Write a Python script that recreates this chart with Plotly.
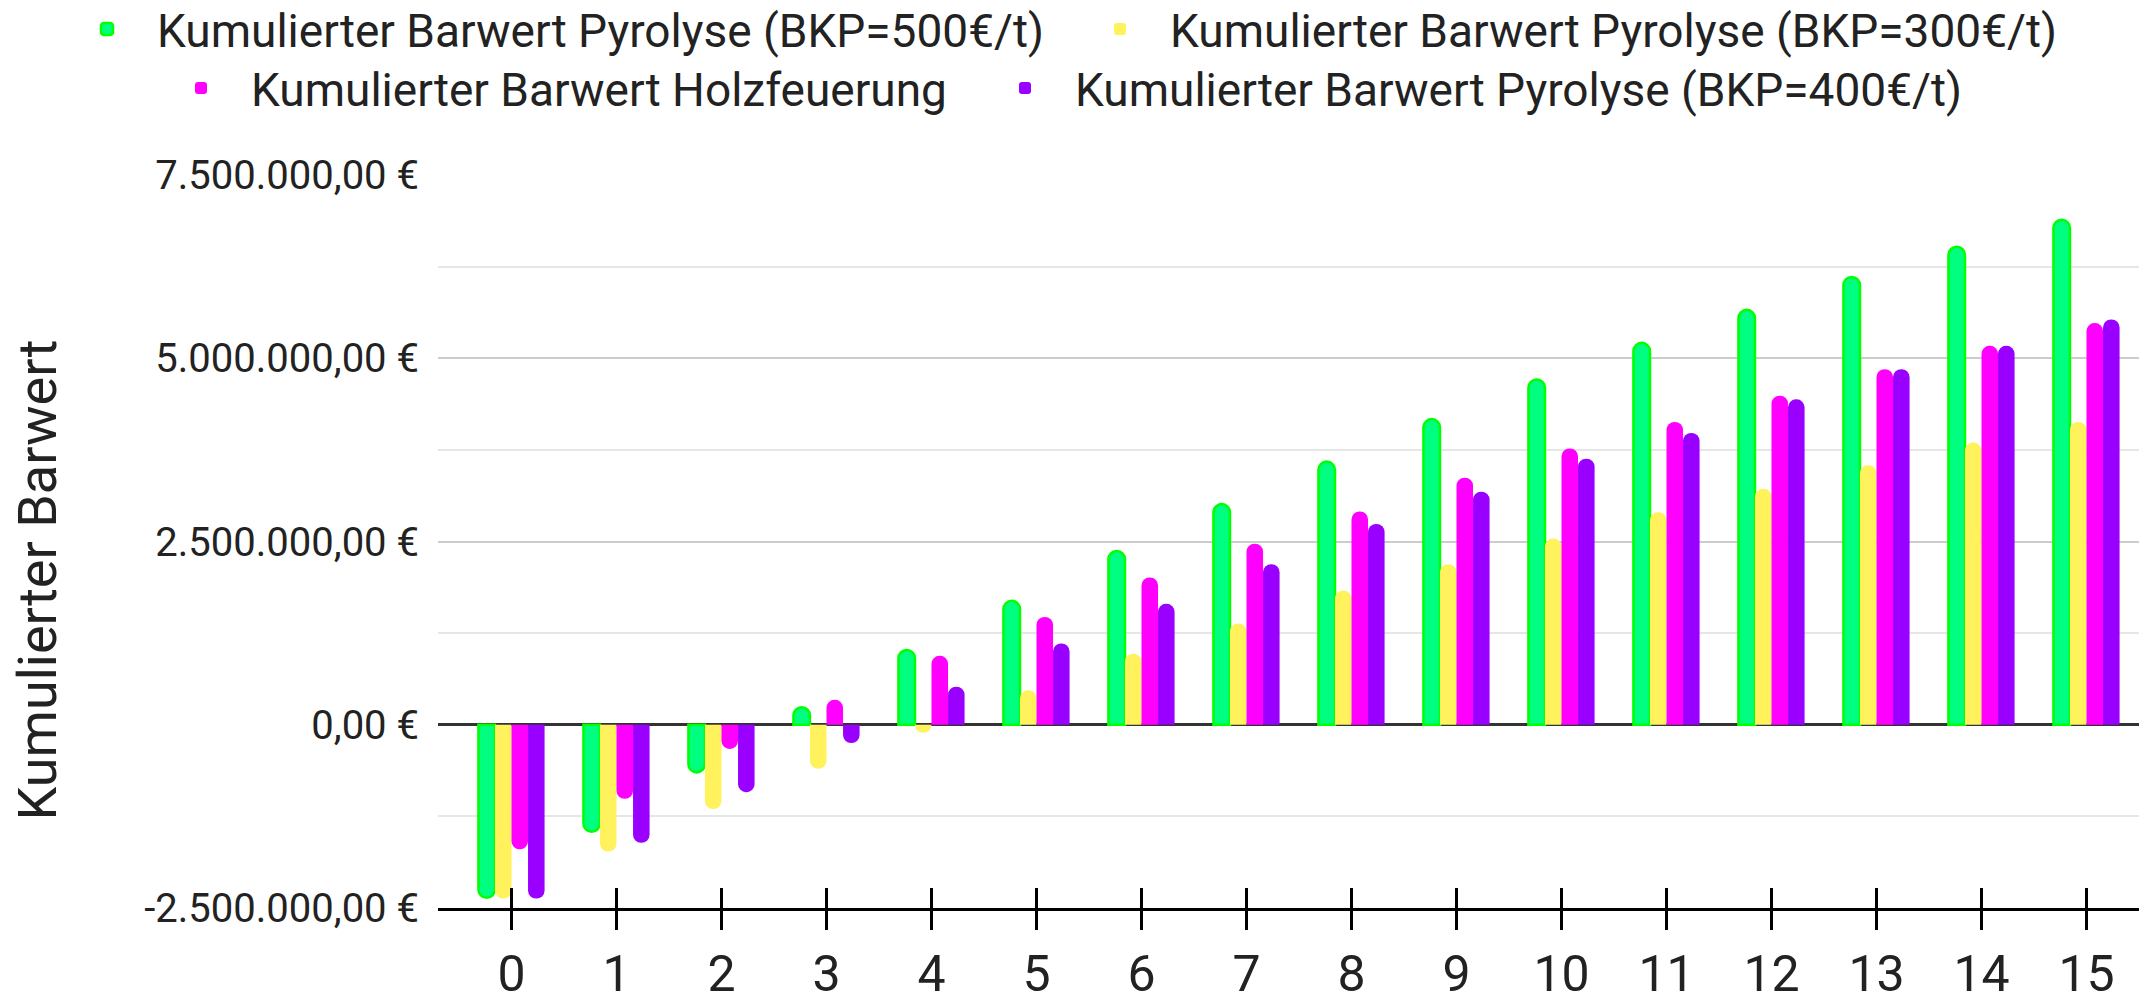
import plotly.graph_objects as go

years = list(range(16))
year_labels = [str(y) for y in years]

pyro_500 = [-2.36e6, -1.46e6, -0.65e6, 0.24e6, 1.02e6, 1.69e6, 2.37e6, 3.01e6,
            3.59e6, 4.17e6, 4.71e6, 5.21e6, 5.66e6, 6.11e6, 6.52e6, 6.89e6]
pyro_300 = [-2.37e6, -1.73e6, -1.15e6, -0.60e6, -0.11e6, 0.47e6, 0.97e6, 1.38e6,
            1.83e6, 2.19e6, 2.54e6, 2.90e6, 3.22e6, 3.54e6, 3.85e6, 4.13e6]
holz = [-1.70e6, -1.01e6, -0.33e6, 0.34e6, 0.94e6, 1.47e6, 2.01e6, 2.47e6,
        2.91e6, 3.37e6, 3.77e6, 4.13e6, 4.49e6, 4.85e6, 5.17e6, 5.48e6]
pyro_400 = [-2.37e6, -1.61e6, -0.92e6, -0.25e6, 0.52e6, 1.11e6, 1.65e6, 2.19e6,
            2.74e6, 3.18e6, 3.63e6, 3.98e6, 4.44e6, 4.85e6, 5.17e6, 5.53e6]

series_names = [
    "Kumulierter Barwert Pyrolyse (BKP=500€/t)",
    "Kumulierter Barwert Pyrolyse (BKP=300€/t)",
    "Kumulierter Barwert Holzfeuerung",
    "Kumulierter Barwert Pyrolyse (BKP=400€/t)",
]
y_tickvals = [-2.5e6, 0, 2.5e6, 5e6, 7.5e6]
y_ticktext = ["-2.500.000,00 €", "0,00 €", "2.500.000,00 €", "5.000.000,00 €", "7.500.000,00 €"]
y_title = "Kumulierter Barwert"

FONT = "Roboto"
TXT = "#222222"
W, H = 2147, 1002

fig = go.Figure()
fig.add_trace(go.Bar(x=years, y=pyro_500, name=series_names[0], legend="legend",
                     marker=dict(color="#00ff80", line=dict(color="#00ff00", width=2.5),
                                 cornerradius="50%")))
fig.add_trace(go.Bar(x=years, y=pyro_300, name=series_names[1], legend="legend2",
                     marker=dict(color="#fff25c", line=dict(width=0), cornerradius="50%")))
fig.add_trace(go.Bar(x=years, y=holz, name=series_names[2], legend="legend3",
                     marker=dict(color="#ff00ff", line=dict(width=0), cornerradius="50%")))
fig.add_trace(go.Bar(x=years, y=pyro_400, name=series_names[3], legend="legend4",
                     marker=dict(color="#9900ff", line=dict(width=0), cornerradius="50%")))
# empty helper trace so the overlaid tick axis (upward half of the "+" ticks) is rendered
fig.add_trace(go.Scatter(x=years, y=[None] * len(years), xaxis="x2", yaxis="y",
                         mode="markers", showlegend=False, hoverinfo="skip"))


def leg(left_px, center_px):
    return dict(orientation="h", xref="container", yref="container",
                x=left_px / W, xanchor="left", y=1 - center_px / H, yanchor="middle",
                font=dict(family=FONT, size=46, color=TXT), itemwidth=90,
                bgcolor="rgba(0,0,0,0)", borderwidth=0)


fig.update_layout(
    width=W, height=H,
    margin=dict(l=438, r=8, t=175, b=94, autoexpand=False),
    paper_bgcolor="white", plot_bgcolor="white",
    font=dict(family=FONT, color=TXT),
    barmode="group", bargap=0.37, bargroupgap=0,
    showlegend=True,
    legend=leg(57, 29),
    legend2=leg(1070, 29),
    legend3=leg(151, 88),
    legend4=leg(975, 88),
    xaxis=dict(range=[-0.7, 15.5], tickmode="array", tickvals=years, ticktext=year_labels,
               ticks="outside", ticklen=19, tickwidth=3, tickcolor="black",
               showline=True, linecolor="black", linewidth=3,
               showgrid=False, zeroline=False, automargin=False,
               tickfont=dict(family=FONT, size=50, color=TXT), ticklabelstandoff=1),
    xaxis2=dict(range=[-0.7, 15.5], overlaying="x", anchor="y", side="bottom",
                tickmode="array", tickvals=years, showticklabels=False,
                ticks="inside", ticklen=20, tickwidth=3, tickcolor="black",
                showline=False, showgrid=False, zeroline=False, automargin=False),
    yaxis=dict(range=[-2.5e6, 7.5e6], tickmode="array", tickvals=y_tickvals, ticktext=y_ticktext,
               ticks="", showgrid=True, gridcolor="#cccccc", gridwidth=2,
               minor=dict(dtick=1.25e6, tick0=0, showgrid=True, gridcolor="#e6e6e6", gridwidth=2),
               zeroline=True, zerolinecolor="#333333", zerolinewidth=3,
               showline=False, automargin=False,
               tickfont=dict(family=FONT, size=40, color=TXT), ticklabelstandoff=18),
    annotations=[dict(text=y_title, textangle=-90, xref="paper", yref="paper",
                      x=(36.5 - 438) / 1701, y=(908 - 580) / 733,
                      xanchor="center", yanchor="middle", showarrow=False,
                      font=dict(family=FONT, size=54, color=TXT))],
)

fig.write_html("out.html")
